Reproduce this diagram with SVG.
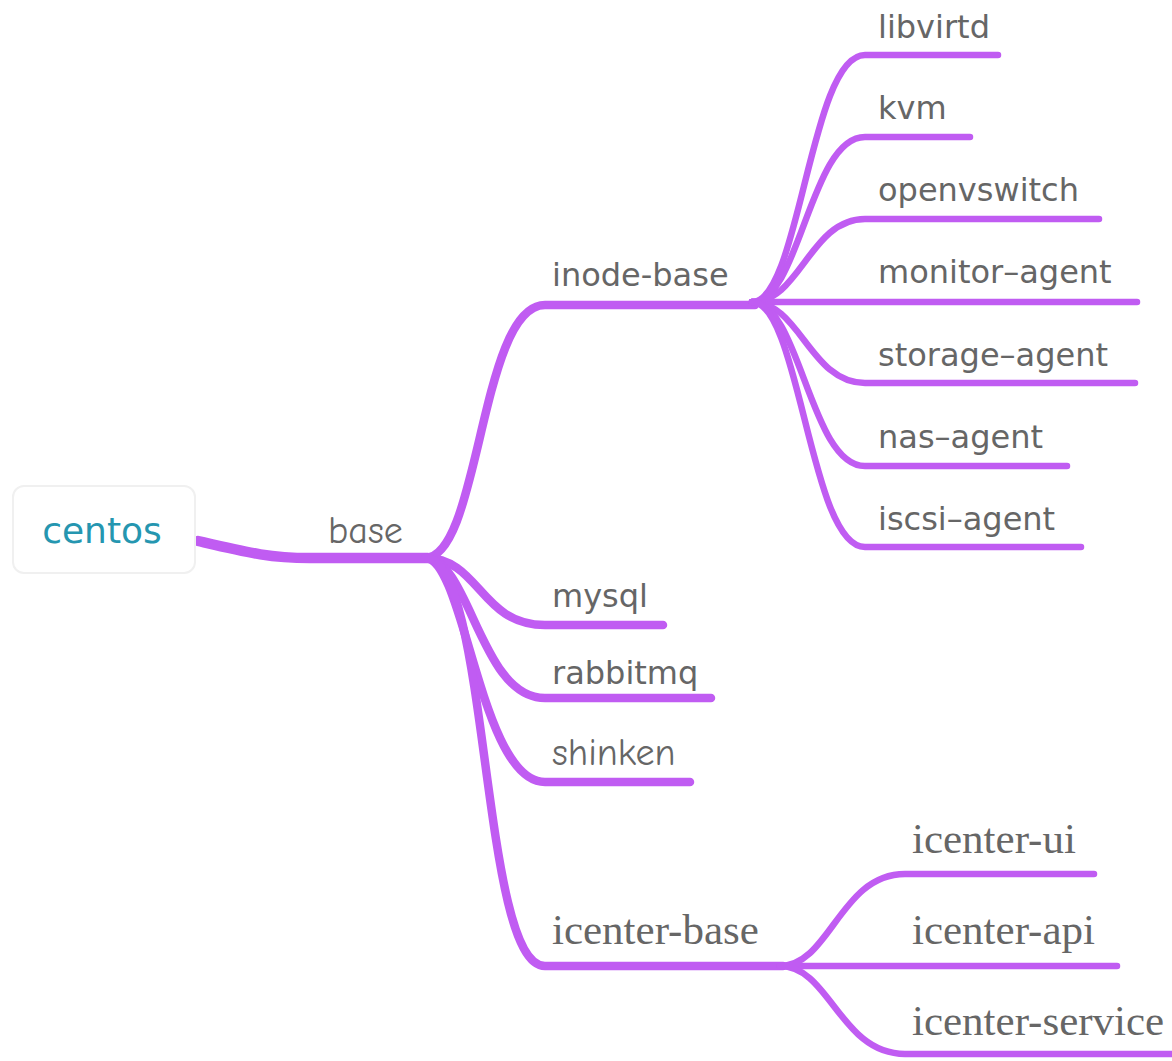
<svg xmlns="http://www.w3.org/2000/svg" width="1172" height="1061" viewBox="0 0 1172 1061">
<style>
.c{fill:none;stroke:#c05cf2;stroke-linecap:round;stroke-linejoin:round}
.w1{stroke-width:10.5}
.w2{stroke-width:8.5}
.w3{stroke-width:6.5}
.s{font-family:"DejaVu Sans",Verdana,sans-serif;font-size:32px;fill:#666}
.h{font-family:"Comic Neue","Comic Sans MS","DejaVu Sans",sans-serif;font-size:38px;fill:#666}
.r{font-family:"Liberation Serif","Times New Roman",serif;font-size:43px;fill:#666}
</style>
<rect width="1172" height="1061" fill="#fff"/>
<g id="connectors">
<path class="c w1" d="M198,541 C250,553 270,558 310,558 L428,558"/>
<path class="c w2" d="M425,558 C480,558 480,305 545,305 L755,305"/>
<path class="c w2" d="M425,558 C480,558 480,625 545,625 L663,625"/>
<path class="c w2" d="M425,558 C470,558 480,698 545,698 L711,698"/>
<path class="c w2" d="M425,558 C465,558 480,782 545,782 L690,782"/>
<path class="c w2" d="M425,558 C490,558 480,966 545,966 L783,966"/>
<path class="c w3" d="M752,302 C800,302 810,55 865,55 L998,55"/>
<path class="c w3" d="M752,302 C800,302 810,137 865,137 L970,137"/>
<path class="c w3" d="M752,302 C800,302 810,219 865,219 L1099,219"/>
<path class="c w3" d="M752,302 L1137,302"/>
<path class="c w3" d="M752,302 C800,302 810,383 865,383 L1135,383"/>
<path class="c w3" d="M752,302 C800,302 810,466 865,466 L1067,466"/>
<path class="c w3" d="M752,302 C800,302 810,547 865,547 L1081,547"/>
<path class="c w3" d="M780,966 C830,966 840,874 905,874 L1094,874"/>
<path class="c w3" d="M780,966 L1117,966"/>
<path class="c w3" d="M780,966 C830,966 840,1054 905,1054 L1172,1054"/>
</g>
<g id="centos">
<rect x="13" y="486" width="182" height="87" rx="11" fill="#fff" stroke="#f0f0f0" stroke-width="2"/>
<text x="102" y="543" text-anchor="middle" font-family="'DejaVu Sans',Verdana,sans-serif" font-size="36" fill="#2596b0">centos</text>
</g>
<g id="base"><text class="h" x="328" y="543">base</text></g>
<g id="inode-base"><text class="s" x="552" y="286">inode-base</text></g>
<g id="libvirtd"><text class="s" x="878" y="38">libvirtd</text></g>
<g id="kvm"><text class="s" x="878" y="119">kvm</text></g>
<g id="openvswitch"><text class="s" x="878" y="201">openvswitch</text></g>
<g id="monitor-agent"><text class="s" x="878" y="283">monitor–agent</text></g>
<g id="storage-agent"><text class="s" x="878" y="366">storage–agent</text></g>
<g id="nas-agent"><text class="s" x="878" y="448">nas–agent</text></g>
<g id="iscsi-agent"><text class="s" x="878" y="530">iscsi–agent</text></g>
<g id="mysql"><text class="s" x="552" y="607">mysql</text></g>
<g id="rabbitmq"><text class="s" x="552" y="684">rabbitmq</text></g>
<g id="shinken"><text class="h" x="552" y="765">shinken</text></g>
<g id="icenter-base"><text class="r" x="552" y="944">icenter-base</text></g>
<g id="icenter-ui"><text class="r" x="912" y="853">icenter-ui</text></g>
<g id="icenter-api"><text class="r" x="912" y="944">icenter-api</text></g>
<g id="icenter-service"><text class="r" x="912" y="1035">icenter-service</text></g>
</svg>
